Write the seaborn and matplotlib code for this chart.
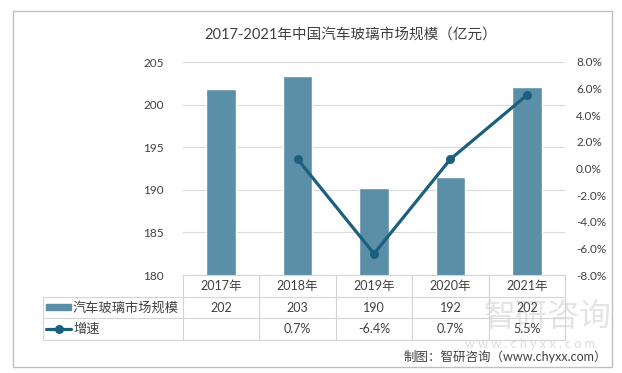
import matplotlib
matplotlib.use("Agg")
import matplotlib.pyplot as plt
from matplotlib.lines import Line2D
from matplotlib.patches import Rectangle
import seaborn as sns
import pandas as pd
import numpy as np

years = ["2017年", "2018年", "2019年", "2020年", "2021年"]
market = [201.8, 203.3, 190.2, 191.5, 202.1]
growth = [None, 0.7, -6.4, 0.7, 5.5]
left_ticks = [180, 185, 190, 195, 200, 205]
right_ticks = [-8, -6, -4, -2, 0, 2, 4, 6, 8]
bar_name = "汽车玻璃市场规模"
line_name = "增速"
title = "2017-2021年中国汽车玻璃市场规模（亿元）"
source = "制图：智研咨询（www.chyxx.com）"

BAR_C = "#5b8fa7"
LINE_C = "#1d5f7f"
GRID_C = "#d9d9d9"
TXT_C = "#404040"

sns.set_theme(style="white")
plt.rcParams['font.family'] = ['Lato', 'Noto Sans CJK SC', 'DejaVu Sans']

W, H = 622, 373
fig = plt.figure(figsize=(W / 100, H / 100), dpi=100)

def fx(px):
    return px / W

def fy(py):
    return 1 - py / H

ax_l, ax_r, ax_t, ax_b = 183, 565, 62, 275
ax = fig.add_axes([fx(ax_l), fy(ax_b), fx(ax_r - ax_l), (ax_b - ax_t) / H])

df = pd.DataFrame({"year": years, "value": market})
sns.barplot(data=df, x="year", y="value", color=BAR_C, width=0.39,
            saturation=1, ax=ax, zorder=2)
ax.set_ylim(180, 205)
ax.set_xlim(-0.5, len(years) - 0.5)
ax.set_yticks(left_ticks)
ax.set_yticklabels([str(t) for t in left_ticks], fontsize=8.5, color=TXT_C)
ax.tick_params(axis='y', length=0, pad=14)
ax.set_xticks([])
ax.set_xlabel("")
ax.set_ylabel("")
ax.grid(axis='y', color=GRID_C, linewidth=0.8, zorder=0)
ax.set_axisbelow(True)
for s in ax.spines.values():
    s.set_visible(False)

ax2 = ax.twinx()
gdf = pd.DataFrame({"x": [i for i, g in enumerate(growth) if g is not None],
                    "g": [g for g in growth if g is not None]})
sns.lineplot(data=gdf, x="x", y="g", color=LINE_C, linewidth=2.3, marker="o",
             markersize=6.5, markeredgewidth=0, ax=ax2, zorder=3)
ax2.set_ylim(-8, 8)
ax2.set_xlim(-0.5, len(years) - 0.5)
ax2.set_yticks(right_ticks)
ax2.set_yticklabels([f"{t:.1f}%" for t in right_ticks], fontsize=8.5, color=TXT_C)
ax2.tick_params(axis='y', length=0, pad=8)
ax2.set_xlabel("")
ax2.set_ylabel("")
for s in ax2.spines.values():
    s.set_visible(False)

# Data table
col_w = (ax_r - ax_l) / len(years)
rows_y = [275, 297, 318, 340]
tab_left = 43
lc = "#d4d4d4"
def hline(x0, x1, y):
    fig.add_artist(Line2D([fx(x0), fx(x1)], [fy(y), fy(y)], color=lc, lw=0.8))
def vline(x, y0, y1):
    fig.add_artist(Line2D([fx(x), fx(x)], [fy(y0), fy(y1)], color=lc, lw=0.8))

hline(ax_l, ax_r, rows_y[0])
for y in rows_y[1:]:
    hline(tab_left, ax_r, y)
vline(tab_left, rows_y[1], rows_y[3])
for i in range(len(years) + 1):
    vline(ax_l + i * col_w, rows_y[0], rows_y[3])

# watermark (drawn first, beneath table text)
fig.text(fx(548), fy(317), "智研咨询", ha='center', va='center', fontsize=23,
         color="#d2d2d2", alpha=0.6, family=['Noto Sans CJK SC'], zorder=0)
fig.text(fx(530), fy(344), "w w w . c h y x x . c o m", ha='center', va='center',
         fontsize=9, color="#cccccc", alpha=0.7, zorder=0)

for i, yr in enumerate(years):
    cx = fx(ax_l + (i + 0.5) * col_w)
    fig.text(cx, fy((rows_y[0] + rows_y[1]) / 2), yr, ha='center', va='center',
             fontsize=9, color=TXT_C)
    fig.text(cx, fy((rows_y[1] + rows_y[2]) / 2), f"{market[i]:.0f}", ha='center',
             va='center', fontsize=9, color=TXT_C)
    if growth[i] is not None:
        fig.text(cx, fy((rows_y[2] + rows_y[3]) / 2), f"{growth[i]:.1f}%", ha='center',
                 va='center', fontsize=9, color=TXT_C)

# legend keys in table
fig.add_artist(Rectangle((fx(46), fy(310)), fx(25), 6 / H, color=BAR_C))
fig.text(fx(73), fy((rows_y[1] + rows_y[2]) / 2), bar_name, ha='left', va='center',
         fontsize=9.5, color=TXT_C)
ly = fy((rows_y[2] + rows_y[3]) / 2)
fig.add_artist(Line2D([fx(46), fx(71)], [ly, ly], color=LINE_C, lw=2.3))
fig.add_artist(Line2D([fx(58.5)], [ly], color=LINE_C, marker='o', markersize=6.5,
                      markeredgewidth=0))
fig.text(fx(73), ly, line_name, ha='left', va='center', fontsize=9.5, color=TXT_C)

# title & source
fig.text(fx(351), fy(36), title, ha='center', va='center', fontsize=10.5, color=TXT_C)
fig.text(fx(607), fy(356), source, ha='right', va='center', fontsize=9, color=TXT_C)

# outer border
fig.add_artist(Rectangle((fx(13), fy(367)), fx(612 - 13), (367 - 11) / H,
                         fill=False, edgecolor="#bfbfbf", lw=1.0))

fig.savefig("out.png", dpi=100, facecolor="white")
